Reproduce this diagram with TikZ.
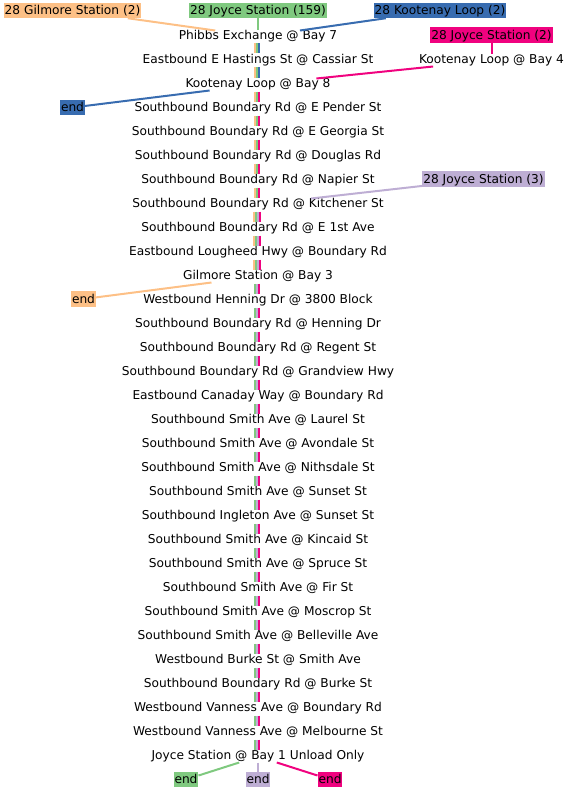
\documentclass[tikz,border=0pt]{standalone}
\usepackage{fontspec}
\setmainfont{DejaVu Sans}
\usepackage{tikz}
\usetikzlibrary{positioning}
\definecolor{routeorange}{HTML}{FDC086}
\definecolor{routegreen}{HTML}{7FC97F}
\definecolor{routepurple}{HTML}{BEAED4}
\definecolor{routeblue}{HTML}{386CB0}
\definecolor{routepink}{HTML}{F0027F}

\begin{document}
\begin{tikzpicture}[
  x = 1pt, y = 1pt,
  node distance = 12pt and 0pt,
  stop/.style = {inner sep=0pt, outer sep=0pt, text height=9pt, text depth=3pt,
                 font=\fontsize{12.2}{14}\selectfont},
  routelabel/.style = {inner xsep=1pt, inner ysep=0.5pt, outer sep=0pt,
                 text height=11.5pt, text depth=3pt,
                 font=\fontsize{12.2}{14}\selectfont},
  link/.style = {line width=2pt},
  strip/.style = {line width=2pt, shorten <=1pt, shorten >=1pt}
]
\useasboundingbox (0,0) rectangle (568,-792);

% stops along the trunk
\node[stop] (phibbs) at (258,-36.5) {Phibbs Exchange @ Bay 7};
\node[stop, below=of phibbs]      (hastings)    {Eastbound E Hastings St @ Cassiar St};
\node[stop, below=of hastings]    (bayeight)    {Kootenay Loop @ Bay 8};
\node[stop, below=of bayeight]    (pender)      {Southbound Boundary Rd @ E Pender St};
\node[stop, below=of pender]      (georgia)     {Southbound Boundary Rd @ E Georgia St};
\node[stop, below=of georgia]     (douglas)     {Southbound Boundary Rd @ Douglas Rd};
\node[stop, below=of douglas]     (napier)      {Southbound Boundary Rd @ Napier St};
\node[stop, below=of napier]      (kitchener)   {Southbound Boundary Rd @ Kitchener St};
\node[stop, below=of kitchener]   (firstave)    {Southbound Boundary Rd @ E 1st Ave};
\node[stop, below=of firstave]    (lougheed)    {Eastbound Lougheed Hwy @ Boundary Rd};
\node[stop, below=of lougheed]    (gilmore)     {Gilmore Station @ Bay 3};
\node[stop, below=of gilmore]     (hennblock)   {Westbound Henning Dr @ 3800 Block};
\node[stop, below=of hennblock]   (henning)     {Southbound Boundary Rd @ Henning Dr};
\node[stop, below=of henning]     (regent)      {Southbound Boundary Rd @ Regent St};
\node[stop, below=of regent]      (grandview)   {Southbound Boundary Rd @ Grandview Hwy};
\node[stop, below=of grandview]   (canaday)     {Eastbound Canaday Way @ Boundary Rd};
\node[stop, below=of canaday]     (laurel)      {Southbound Smith Ave @ Laurel St};
\node[stop, below=of laurel]      (avondale)    {Southbound Smith Ave @ Avondale St};
\node[stop, below=of avondale]    (nithsdale)   {Southbound Smith Ave @ Nithsdale St};
\node[stop, below=of nithsdale]   (sunset)      {Southbound Smith Ave @ Sunset St};
\node[stop, below=of sunset]      (ingleton)    {Southbound Ingleton Ave @ Sunset St};
\node[stop, below=of ingleton]    (kincaid)     {Southbound Smith Ave @ Kincaid St};
\node[stop, below=of kincaid]     (spruce)      {Southbound Smith Ave @ Spruce St};
\node[stop, below=of spruce]      (fir)         {Southbound Smith Ave @ Fir St};
\node[stop, below=of fir]         (moscrop)     {Southbound Smith Ave @ Moscrop St};
\node[stop, below=of moscrop]     (belleville)  {Southbound Smith Ave @ Belleville Ave};
\node[stop, below=of belleville]  (burke)       {Westbound Burke St @ Smith Ave};
\node[stop, below=of burke]       (boundburke)  {Southbound Boundary Rd @ Burke St};
\node[stop, below=of boundburke]  (vanboundary) {Westbound Vanness Ave @ Boundary Rd};
\node[stop, below=of vanboundary] (melbourne)   {Westbound Vanness Ave @ Melbourne St};
\node[stop, below=of melbourne]   (joyce)       {Joyce Station @ Bay 1 Unload Only};
\node[stop] (bayfour) at (491.5,-60.5) {Kootenay Loop @ Bay 4};

% route heads and ends
\node[routelabel, fill=routeorange] (lblgilmore)    at (72.5,-10.5)  {28 Gilmore Station (2)};
\node[routelabel, fill=routegreen]  (lbljoyce)      at (258,-10.5)   {28 Joyce Station (159)};
\node[routelabel, fill=routeblue]   (lblkootenay)   at (440,-10.5)   {28 Kootenay Loop (2)};
\node[routelabel, fill=routepink]   (lbljoycetwo)   at (491.5,-35)   {28 Joyce Station (2)};
\node[routelabel, fill=routepurple] (lbljoycethree) at (483.5,-179)  {28 Joyce Station (3)};
\node[routelabel, fill=routeblue]   (endblue)       at (72.5,-107.5) {end};
\node[routelabel, fill=routeorange] (endorange)     at (83.5,-299)   {end};
\node[routelabel, fill=routegreen]  (endgreen)      at (186,-779.5)  {end};
\node[routelabel, fill=routepurple] (endpurple)     at (258,-779.5)  {end};
\node[routelabel, fill=routepink]   (endpink)       at (330,-779.5)  {end};

\draw[link, routeorange] (lblgilmore)    -- (phibbs);
\draw[link, routegreen]  (lbljoyce)      -- (phibbs);
\draw[link, routeblue]   (lblkootenay)   -- (phibbs);
\draw[link, routepink]   (lbljoycetwo)   -- (bayfour);
\draw[link, routepink]   (bayfour)       -- (bayeight);
\draw[link, routeblue]   (bayeight)      -- (endblue);
\draw[link, routepurple] (lbljoycethree) -- (kitchener);
\draw[link, routeorange] (gilmore)       -- (endorange);
\draw[link, routegreen]  (joyce)         -- (endgreen);
\draw[link, routepurple] (joyce)         -- (endpurple);
\draw[link, routepink]   (joyce)         -- (endpink);

% coloured strips between stops
\foreach \a/\b in {phibbs/hastings, hastings/bayeight} {
  \draw[strip, routeorange] ([xshift=-3pt]\a.south) -- ([xshift=-3pt]\b.north);
  \draw[strip, routegreen]  ([xshift=-1pt]\a.south) -- ([xshift=-1pt]\b.north);
  \draw[strip, routeblue]   ([xshift=1pt]\a.south)  -- ([xshift=1pt]\b.north);
}
\foreach \a/\b in {bayeight/pender, pender/georgia, georgia/douglas,
                   douglas/napier, napier/kitchener} {
  \draw[strip, routeorange] ([xshift=-3pt]\a.south) -- ([xshift=-3pt]\b.north);
  \draw[strip, routegreen]  ([xshift=-1pt]\a.south) -- ([xshift=-1pt]\b.north);
  \draw[strip, routepink]   ([xshift=1pt]\a.south)  -- ([xshift=1pt]\b.north);
}
\foreach \a/\b in {kitchener/firstave, firstave/lougheed, lougheed/gilmore} {
  \draw[strip, routeorange] ([xshift=-4pt]\a.south) -- ([xshift=-4pt]\b.north);
  \draw[strip, routegreen]  ([xshift=-2pt]\a.south) -- ([xshift=-2pt]\b.north);
  \draw[strip, routepurple] (\a.south) -- (\b.north);
  \draw[strip, routepink]   ([xshift=2pt]\a.south)  -- ([xshift=2pt]\b.north);
}
\foreach \a/\b in {gilmore/hennblock, hennblock/henning, henning/regent,
                   regent/grandview, grandview/canaday, canaday/laurel,
                   laurel/avondale, avondale/nithsdale, nithsdale/sunset,
                   sunset/ingleton, ingleton/kincaid, kincaid/spruce,
                   spruce/fir, fir/moscrop, moscrop/belleville,
                   belleville/burke, burke/boundburke, boundburke/vanboundary,
                   vanboundary/melbourne, melbourne/joyce} {
  \draw[strip, routegreen]  ([xshift=-3pt]\a.south) -- ([xshift=-3pt]\b.north);
  \draw[strip, routepurple] ([xshift=-1pt]\a.south) -- ([xshift=-1pt]\b.north);
  \draw[strip, routepink]   ([xshift=1pt]\a.south)  -- ([xshift=1pt]\b.north);
}

\end{tikzpicture}
\end{document}
